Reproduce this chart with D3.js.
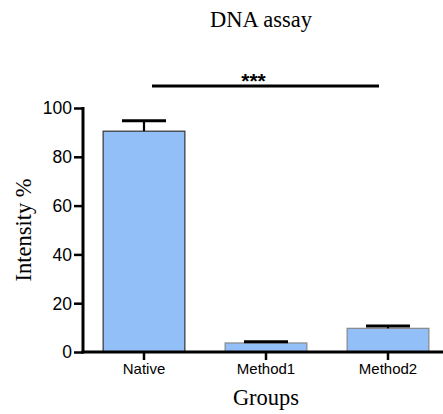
<!DOCTYPE html>
<html>
<head>
<meta charset="utf-8">
<script src="https://cdn.jsdelivr.net/npm/d3@7"></script>
<style>
  body { margin: 0; background: #fff; }
  svg { display: block; }
  .tick text { font-family: "Liberation Sans", Arial, sans-serif; fill: #000; }
  .serif { font-family: "Liberation Serif", "Times New Roman", serif; fill: #000; }
</style>
</head>
<body>
<div id="chart"></div>
<script>
// chart values
var groups = ["Native", "Method1", "Method2"];
var means = [90.5, 3.7, 9.7];
var errors = [4.3, 0.5, 1.0];
var yTicks = [0, 20, 40, 60, 80, 100];
var sigLabel = "***";
var sigLevel = 109;

var dim = { width: 443, height: 414 };

var x = d3.scaleBand()
    .domain(groups)
    .range([83, 449])
    .paddingInner(0.33)
    .paddingOuter(0.165);

var y = d3.scaleLinear()
    .domain([0, 100])
    .range([352, 108]);

var svg = d3.select("#chart").append("svg")
    .attr("width", dim.width)
    .attr("height", dim.height);

// title
svg.append("text")
    .attr("class", "serif")
    .attr("x", 261)
    .attr("y", 27)
    .attr("text-anchor", "middle")
    .style("font-size", "22.5px")
    .text("DNA assay");

// bars
svg.append("g").selectAll("rect")
    .data(groups)
    .enter().append("rect")
    .attr("x", function(d) { return x(d); })
    .attr("y", function(d, i) { return y(means[i]); })
    .attr("width", x.bandwidth())
    .attr("height", function(d, i) { return y(0) - y(means[i]); })
    .attr("fill", "#92bff8")
    .attr("stroke", function(d, i) { return i == 0 ? "#333" : "#888"; })
    .attr("stroke-width", 1.2);

// error bars (upper only)
var err = svg.append("g").selectAll("g")
    .data(groups)
    .enter().append("g");
err.append("line")
    .attr("x1", function(d) { return x(d) + x.bandwidth() / 2; })
    .attr("x2", function(d) { return x(d) + x.bandwidth() / 2; })
    .attr("y1", function(d, i) { return y(means[i]); })
    .attr("y2", function(d, i) { return y(means[i] + errors[i]); })
    .attr("stroke", "#000")
    .attr("stroke-width", 2.2);
err.append("line")
    .attr("x1", function(d) { return x(d) + x.bandwidth() / 2 - 22; })
    .attr("x2", function(d) { return x(d) + x.bandwidth() / 2 + 22; })
    .attr("y1", function(d, i) { return y(means[i] + errors[i]); })
    .attr("y2", function(d, i) { return y(means[i] + errors[i]); })
    .attr("stroke", "#000")
    .attr("stroke-width", 3);

// axes
var yAxis = d3.axisLeft(y).tickValues(yTicks).tickSize(9).tickPadding(2);
var gy = svg.append("g")
    .attr("transform", "translate(83,0)")
    .call(yAxis);
gy.select(".domain").remove();
gy.append("line")
    .attr("x1", 0).attr("x2", 0)
    .attr("y1", y(100) - 1).attr("y2", y(0) + 1.5)
    .attr("stroke", "#000").attr("stroke-width", 3);
gy.selectAll(".tick line").attr("stroke", "#000").attr("stroke-width", 2.5);
gy.selectAll(".tick text").style("font-size", "17.5px").attr("dy", "0.34em");

var xAxis = d3.axisBottom(x).tickSize(8).tickPadding(3);
var gx = svg.append("g")
    .attr("transform", "translate(0," + y(0) + ")")
    .call(xAxis);
gx.select(".domain").remove();
gx.append("line")
    .attr("x1", 81.5).attr("x2", dim.width)
    .attr("y1", 0).attr("y2", 0)
    .attr("stroke", "#000").attr("stroke-width", 3);
gx.selectAll(".tick line").attr("stroke", "#000").attr("stroke-width", 2.5);
gx.selectAll(".tick text").style("font-size", "15px");

// axis titles
svg.append("text")
    .attr("class", "serif")
    .attr("transform", "translate(31,230) rotate(-90)")
    .attr("text-anchor", "middle")
    .style("font-size", "22.5px")
    .text("Intensity %");

svg.append("text")
    .attr("class", "serif")
    .attr("x", 266)
    .attr("y", 405)
    .attr("text-anchor", "middle")
    .style("font-size", "22.5px")
    .text("Groups");

// significance line
var sx1 = x("Native") + x.bandwidth() / 2 + 8,
    sx2 = x("Method2") + x.bandwidth() / 2 - 9;
svg.append("text")
    .attr("x", (sx1 + sx2) / 2 - 12)
    .attr("y", y(sigLevel) + 2)
    .attr("text-anchor", "middle")
    .style("font-family", "'Liberation Sans', Arial, sans-serif")
    .style("font-size", "21px")
    .style("font-weight", "bold")
    .text(sigLabel);
svg.append("line")
    .attr("x1", sx1).attr("x2", sx2)
    .attr("y1", y(sigLevel)).attr("y2", y(sigLevel))
    .attr("stroke", "#000").attr("stroke-width", 3);
</script>
</body>
</html>
